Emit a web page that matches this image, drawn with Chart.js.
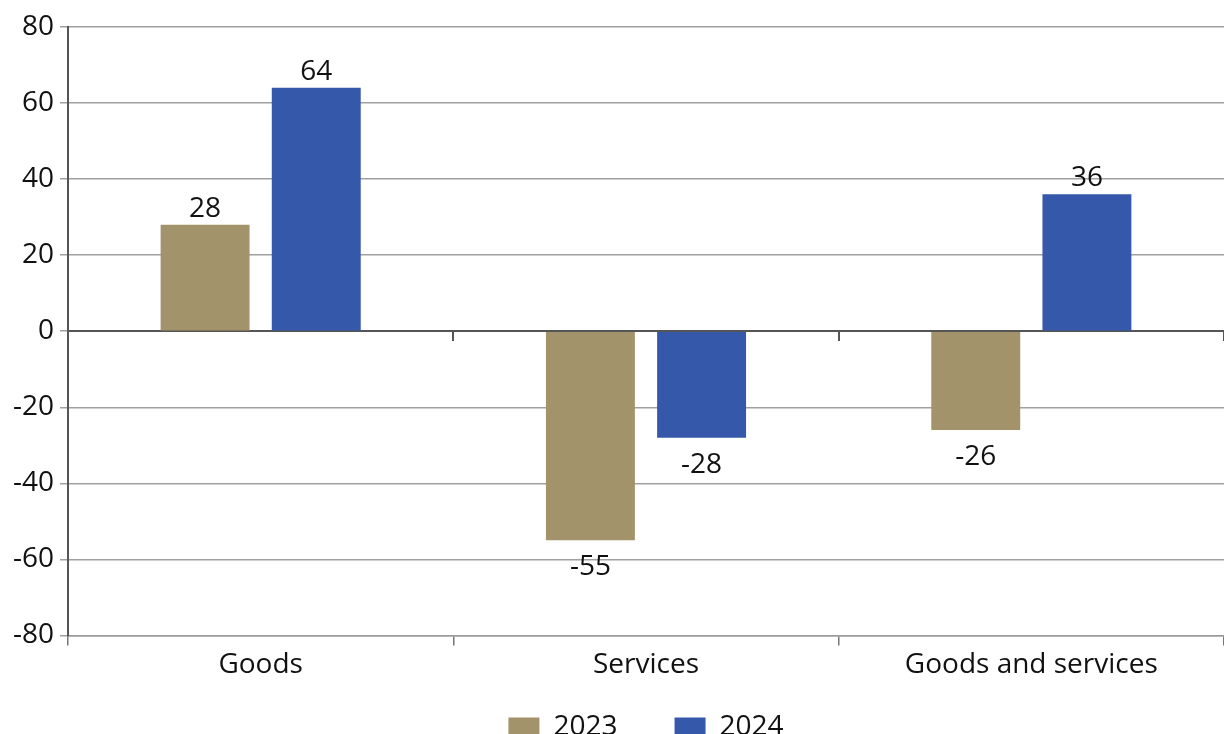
<!DOCTYPE html>
<html>
<head>
<meta charset="utf-8">
<script src="https://cdn.jsdelivr.net/npm/chart.js@4.4.1/dist/chart.umd.min.js"></script>
<style>
  html, body { margin: 0; padding: 0; background: #ffffff; overflow: hidden; }
  #wrap { width: 1224px; height: 734px; overflow: hidden; }
  canvas { display: block; }
</style>
</head>
<body>
<div id="wrap"><canvas id="chart" width="1224" height="751"></canvas></div>
<script>
// Trade balance by category
const categories = ['Goods', 'Services', 'Goods and services'];
const values2023 = [28, -55, -26];
const values2024 = [64, -28, 36];
const yTicks = [-80, -60, -40, -20, 0, 20, 40, 60, 80];

const FONT = "'Open Sans', 'Noto Sans', sans-serif";
const FONT_SIZE = 28;

// Value labels: above positive bars, below negative bars
const valueLabels = {
  id: 'valueLabels',
  afterDatasetsDraw(chart) {
    const ctx = chart.ctx;
    ctx.save();
    ctx.font = FONT_SIZE + 'px ' + FONT;
    ctx.fillStyle = '#111111';
    ctx.textAlign = 'center';
    ctx.textBaseline = 'alphabetic';
    chart.data.datasets.forEach((ds, i) => {
      const meta = chart.getDatasetMeta(i);
      meta.data.forEach((bar, j) => {
        const v = ds.data[j];
        const y = v >= 0 ? bar.y - 8 : bar.y + 35;
        ctx.fillText(String(v), bar.x, y);
      });
    });
    ctx.restore();
  }
};

new Chart(document.getElementById('chart'), {
  type: 'bar',
  data: {
    labels: categories,
    datasets: [
      { label: '2023', data: values2023, backgroundColor: '#a3936b', categoryPercentage: 0.577, barPercentage: 0.8 },
      { label: '2024', data: values2024, backgroundColor: '#3558aa', categoryPercentage: 0.577, barPercentage: 0.8 }
    ]
  },
  options: {
    responsive: false,
    animation: false,
    layout: { padding: { top: 27, right: 0, left: 0, bottom: 0 } },
    plugins: {
      legend: {
        position: 'bottom',
        fullSize: false,
        labels: {
          font: { family: FONT, size: FONT_SIZE },
          color: '#111111',
          boxWidth: 31,
          boxHeight: 19,
          padding: 28,
          // widen the gap between the two entries without adding vertical space
          generateLabels(chart) {
            const items = Chart.defaults.plugins.legend.labels.generateLabels(chart);
            items.forEach((it, i) => { if (i < items.length - 1) it.text = it.text + '    '; });
            return items;
          }
        }
      },
      tooltip: { enabled: false }
    },
    scales: {
      x: {
        position: 'bottom',
        offset: true,
        grid: { offset: true, drawOnChartArea: false, tickLength: 10, color: '#777777', lineWidth: 1.5 },
        border: { display: true, color: '#9a9a9a', width: 1.5 },
        ticks: { font: { family: FONT, size: FONT_SIZE }, color: '#111111', padding: 3, maxRotation: 0 }
      },
      x0: {
        type: 'category',
        labels: categories,
        position: { y: 0 },
        offset: true,
        grid: { offset: true, drawOnChartArea: false, tickLength: 9, color: '#555555', lineWidth: 2 },
        border: { display: true, color: '#555555', width: 2 },
        ticks: { display: false }
      },
      y: {
        min: -80,
        max: 80,
        afterBuildTicks(scale) { scale.ticks = yTicks.map(v => ({ value: v })); },
        afterFit(scale) { scale.width = 68; },
        grid: { color: '#a0a0a0', lineWidth: 1.5, tickLength: 8, drawTicks: true },
        border: { display: true, color: '#555555', width: 2 },
        ticks: { font: { family: FONT, size: FONT_SIZE }, color: '#111111', padding: 6 }
      }
    }
  },
  plugins: [valueLabels]
});
</script>
</body>
</html>
